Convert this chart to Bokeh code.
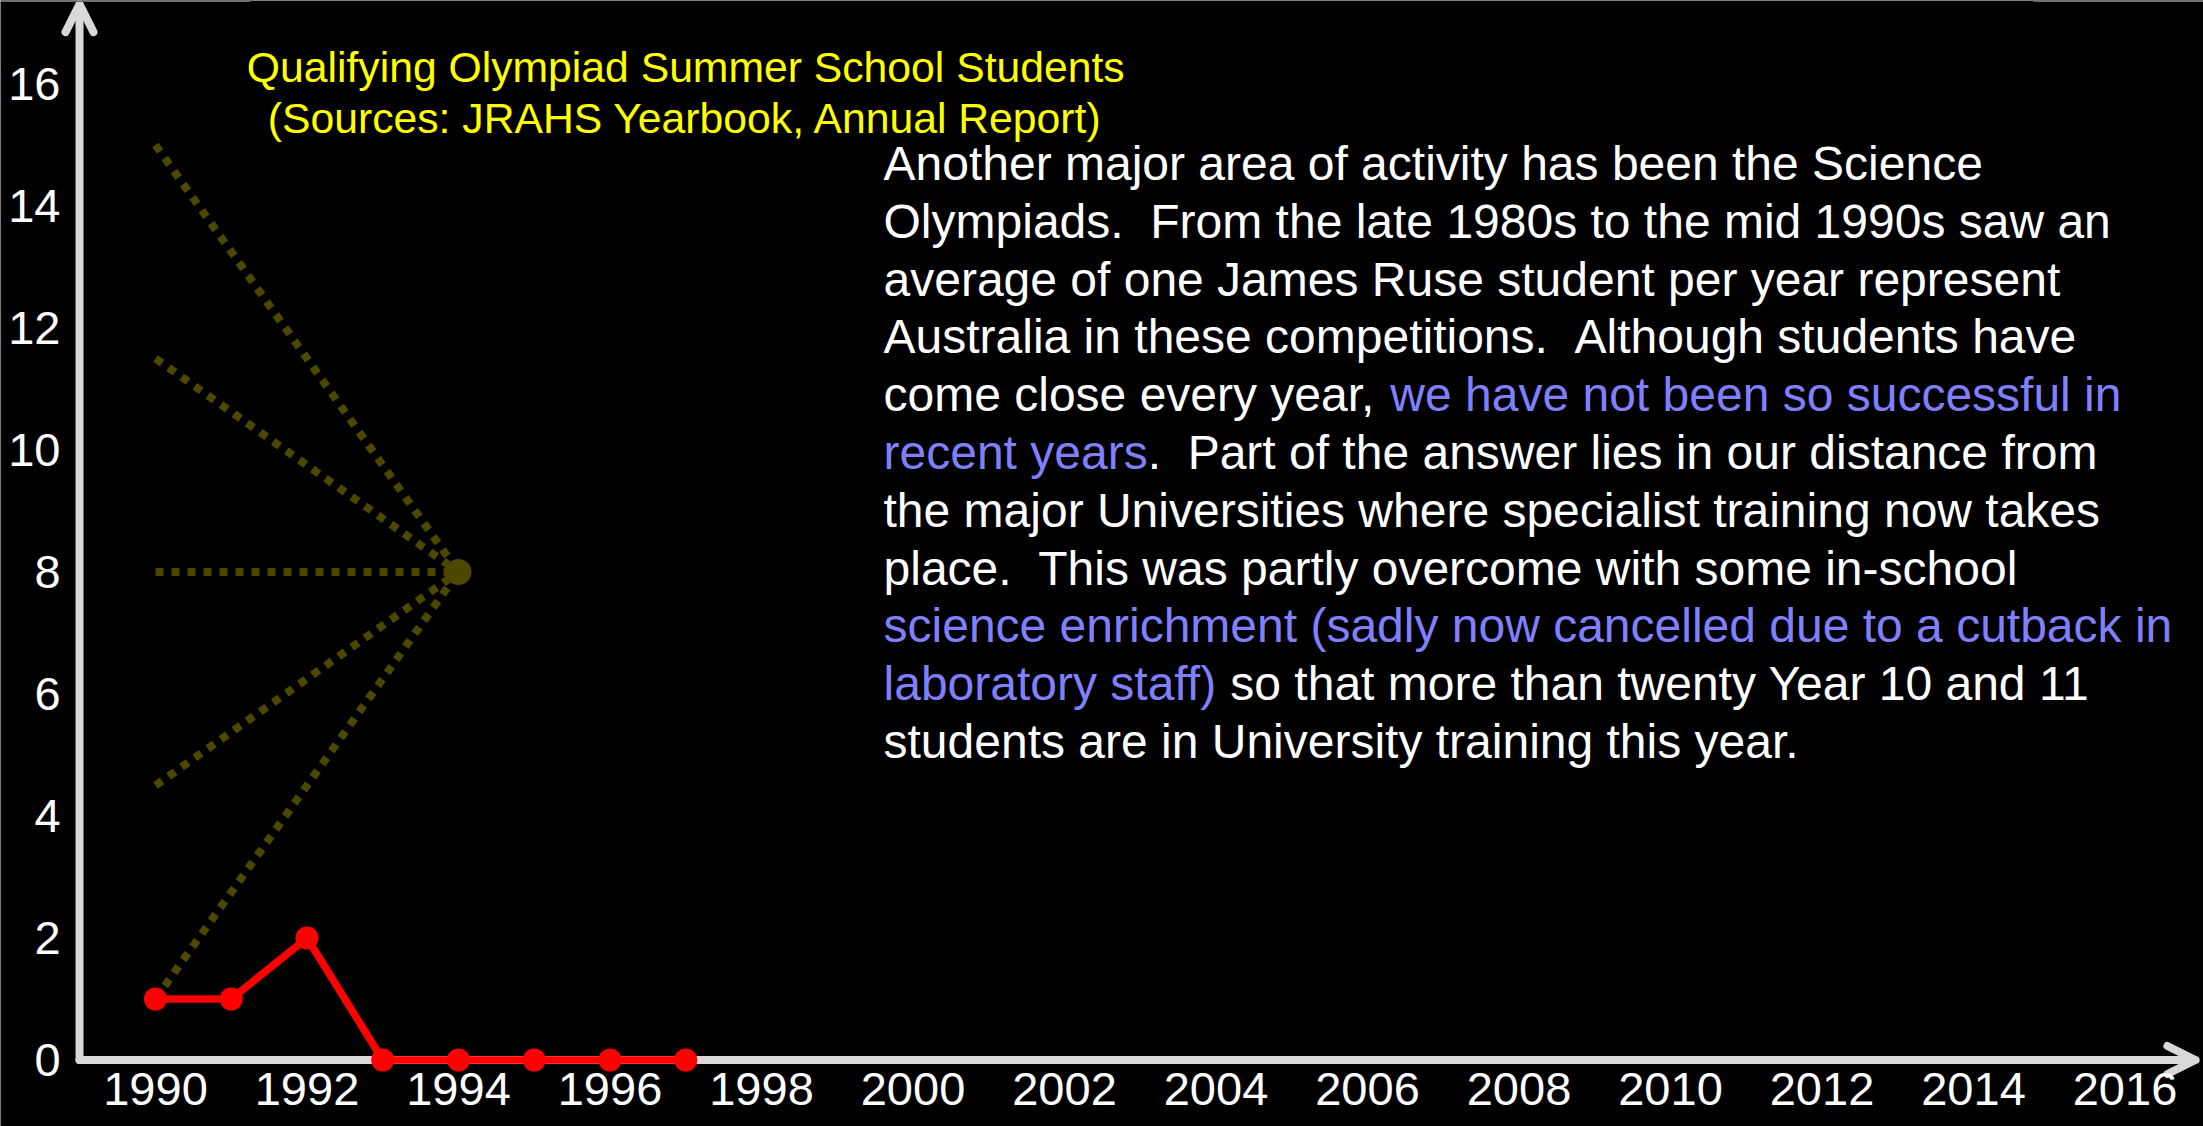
from bokeh.plotting import figure
from bokeh.models import Range1d, FixedTicker, Arrow, OpenHead, ColumnDataSource
from bokeh.core.properties import value
from bokeh.embed import file_html
from bokeh.resources import INLINE

# ---------------- data ----------------
YEARS = [1990, 1991, 1992, 1993, 1994, 1995, 1996, 1997]
STUDENTS = [1, 1, 2, 0, 0, 0, 0, 0]

FAN_X0 = [1990, 1990, 1990, 1990, 1990]
FAN_Y0 = [15, 11.5, 8, 4.5, 1]
FAN_X1 = [1994, 1994, 1994, 1994, 1994]
FAN_Y1 = [8, 8, 8, 8, 8]
FAN_HUB_X = [1994]
FAN_HUB_Y = [8]

X_TICKS = [1990, 1992, 1994, 1996, 1998, 2000, 2002, 2004, 2006, 2008, 2010, 2012, 2014, 2016]
X_TICK_LABELS = ["1990", "1992", "1994", "1996", "1998", "2000", "2002", "2004",
                 "2006", "2008", "2010", "2012", "2014", "2016"]
Y_TICKS = [0, 2, 4, 6, 8, 10, 12, 14, 16]
Y_TICK_LABELS = ["0", "2", "4", "6", "8", "10", "12", "14", "16"]

TITLE_LINES = ["Qualifying Olympiad Summer School Students",
               "(Sources: JRAHS Yearbook, Annual Report)"]

NB = "\u00a0"
# each line: list of (text, kind) ; kind "w" = white, "b" = blue highlight
PARAGRAPH = [
    [("Another major area of activity has been the Science", "w")],
    [("Olympiads. " + NB + "From the late 1980s to the mid 1990s saw an", "w")],
    [("average of one James Ruse student per year represent", "w")],
    [("Australia in these competitions. " + NB + "Although students have", "w")],
    [("come close every year, ", "w"), ("we have not been so successful in", "b")],
    [("recent years", "b"), (". " + NB + "Part of the answer lies in our distance from", "w")],
    [("the major Universities where specialist training now takes", "w")],
    [("place. " + NB + "This was partly overcome with some in-school", "w")],
    [("science enrichment (sadly now cancelled due to a cutback in", "b")],
    [("laboratory staff) ", "b"), ("so that more than twenty Year 10 and 11", "w")],
    [("students are in University training this year.", "w")],
]

# ---------------- layout / style ----------------
W, H = 2203, 1126
PX_PER_YEAR = 75.75
PX_PER_UNIT = 61.0
X0_PX = 155.0          # pixel of 1990 in canvas
Y0_PX = 1059.5         # pixel of value 0 in canvas
X_START = 1990 - X0_PX / PX_PER_YEAR
X_END = X_START + W / PX_PER_YEAR
Y_START = -(H - Y0_PX) / PX_PER_UNIT
Y_END = Y0_PX / PX_PER_UNIT

AXIS_X = 1988.997
X_ARROW_END = 2016.93
Y_ARROW_END = 17.31

# thin slide-edge strokes along the top border
EDGE_X0 = [X_START, 2014.79]
EDGE_X1 = [1991.254, X_END]

FONT = "Liberation Sans"
AXIS_COLOR = "#d9d9d9"
EDGE_COLOR = "#6a6a6a"
RED = "#ff0000"
OLIVE = "#4d4800"
YELLOW = "#ffff00"
BLUE = "#8080ff"
WHITE = "#ffffff"

BASE_FIX = -15         # px correction of the alphabetic baseline
PARA_X = 1999.611
PARA_Y = 14.451
PARA_SIZE = 48
PARA_LINE = 57.8
TITLE_X = 1997.0
TITLE_Y = 16.025
TITLE_LINE = 51

ARIAL = {
    " ": .278, NB: .278, ",": .278, ".": .278, "(": .333, ")": .333, "-": .333,
    "a": .556, "b": .556, "c": .5, "d": .556, "e": .556, "f": .278, "g": .556,
    "h": .556, "i": .222, "j": .222, "k": .5, "l": .222, "m": .833, "n": .556,
    "o": .556, "p": .556, "q": .556, "r": .333, "s": .5, "t": .278, "u": .556,
    "v": .5, "w": .722, "x": .5, "y": .5, "z": .5,
}


def text_width(s, size):
    return sum(ARIAL.get(c, 0.556) for c in s) * size


p = figure(width=W, height=H, output_backend="svg", toolbar_location=None, title=None,
           x_range=Range1d(X_START, X_END), y_range=Range1d(Y_START, Y_END),
           min_border_left=0, min_border_bottom=0, min_border_top=0, min_border_right=0)
p.background_fill_color = "black"
p.border_fill_color = "black"
p.outline_line_color = None
p.grid.visible = False

for ax, ticks, labels, standoff, loc in ((p.xaxis, X_TICKS, X_TICK_LABELS, 13, 0),
                                         (p.yaxis, Y_TICKS, Y_TICK_LABELS, 19, AXIS_X)):
    ax.fixed_location = loc
    ax.ticker = FixedTicker(ticks=ticks)
    ax.major_label_overrides = {t: l for t, l in zip(ticks, labels)}
    ax.axis_line_color = None
    ax.major_tick_line_color = None
    ax.minor_tick_line_color = None
    ax.major_tick_in = 0
    ax.major_tick_out = 0
    ax.major_label_text_color = WHITE
    ax.major_label_text_font = FONT
    ax.major_label_text_font_size = "47px"
    ax.major_label_standoff = standoff

# slide edge strokes
p.segment(x0=EDGE_X0, y0=[Y_END, Y_END], x1=EDGE_X1, y1=[Y_END, Y_END],
          line_color=EDGE_COLOR, line_width=3)

# axes with arrow heads
for xs, ys, xe, ye in ((AXIS_X, 0, AXIS_X, Y_ARROW_END), (AXIS_X, 0, X_ARROW_END, 0)):
    p.add_layout(Arrow(end=OpenHead(size=28, line_color=AXIS_COLOR, line_width=8,
                                    line_cap="round", line_join="round"),
                       x_start=xs, y_start=ys, x_end=xe, y_end=ye,
                       line_color=AXIS_COLOR, line_width=8, line_cap="round",
                       level="underlay"))

# dotted fan
p.segment(x0=FAN_X0, y0=FAN_Y0, x1=FAN_X1, y1=FAN_Y1, line_color=OLIVE,
          line_width=8, line_dash="8 8")
p.scatter(x=FAN_HUB_X, y=FAN_HUB_Y, size=26, marker="circle", fill_color=OLIVE,
          line_color=None)

# red series
p.line(x=YEARS, y=STUDENTS, line_color=RED, line_width=7.5)
p.scatter(x=YEARS, y=STUDENTS, size=23, marker="circle", fill_color=RED, line_color=None)

# title
p.text(x=[TITLE_X, TITLE_X], y=[TITLE_Y, TITLE_Y], text=TITLE_LINES,
       y_offset=[BASE_FIX, BASE_FIX + TITLE_LINE], text_color=YELLOW, text_font=value(FONT),
       text_font_size="42.7px", text_align="center", text_baseline="alphabetic")

# paragraph
px, py, pt, pc, pxo, pyo = [], [], [], [], [], []
for i, segs in enumerate(PARAGRAPH):
    offset = 0.0
    for txt, kind in segs:
        px.append(PARA_X)
        py.append(PARA_Y)
        pt.append(txt.rstrip())
        pc.append(BLUE if kind == "b" else WHITE)
        pxo.append(offset)
        pyo.append(i * PARA_LINE + BASE_FIX)
        offset += text_width(txt, PARA_SIZE)
src = ColumnDataSource(dict(x=px, y=py, text=pt, color=pc, xo=pxo, yo=pyo))
p.text(x="x", y="y", text="text", text_color="color", x_offset="xo", y_offset="yo",
       source=src, text_font=value(FONT), text_font_size=f"{PARA_SIZE}px",
       text_align="left", text_baseline="alphabetic")

open("out.html", "w").write(file_html(p, INLINE))
